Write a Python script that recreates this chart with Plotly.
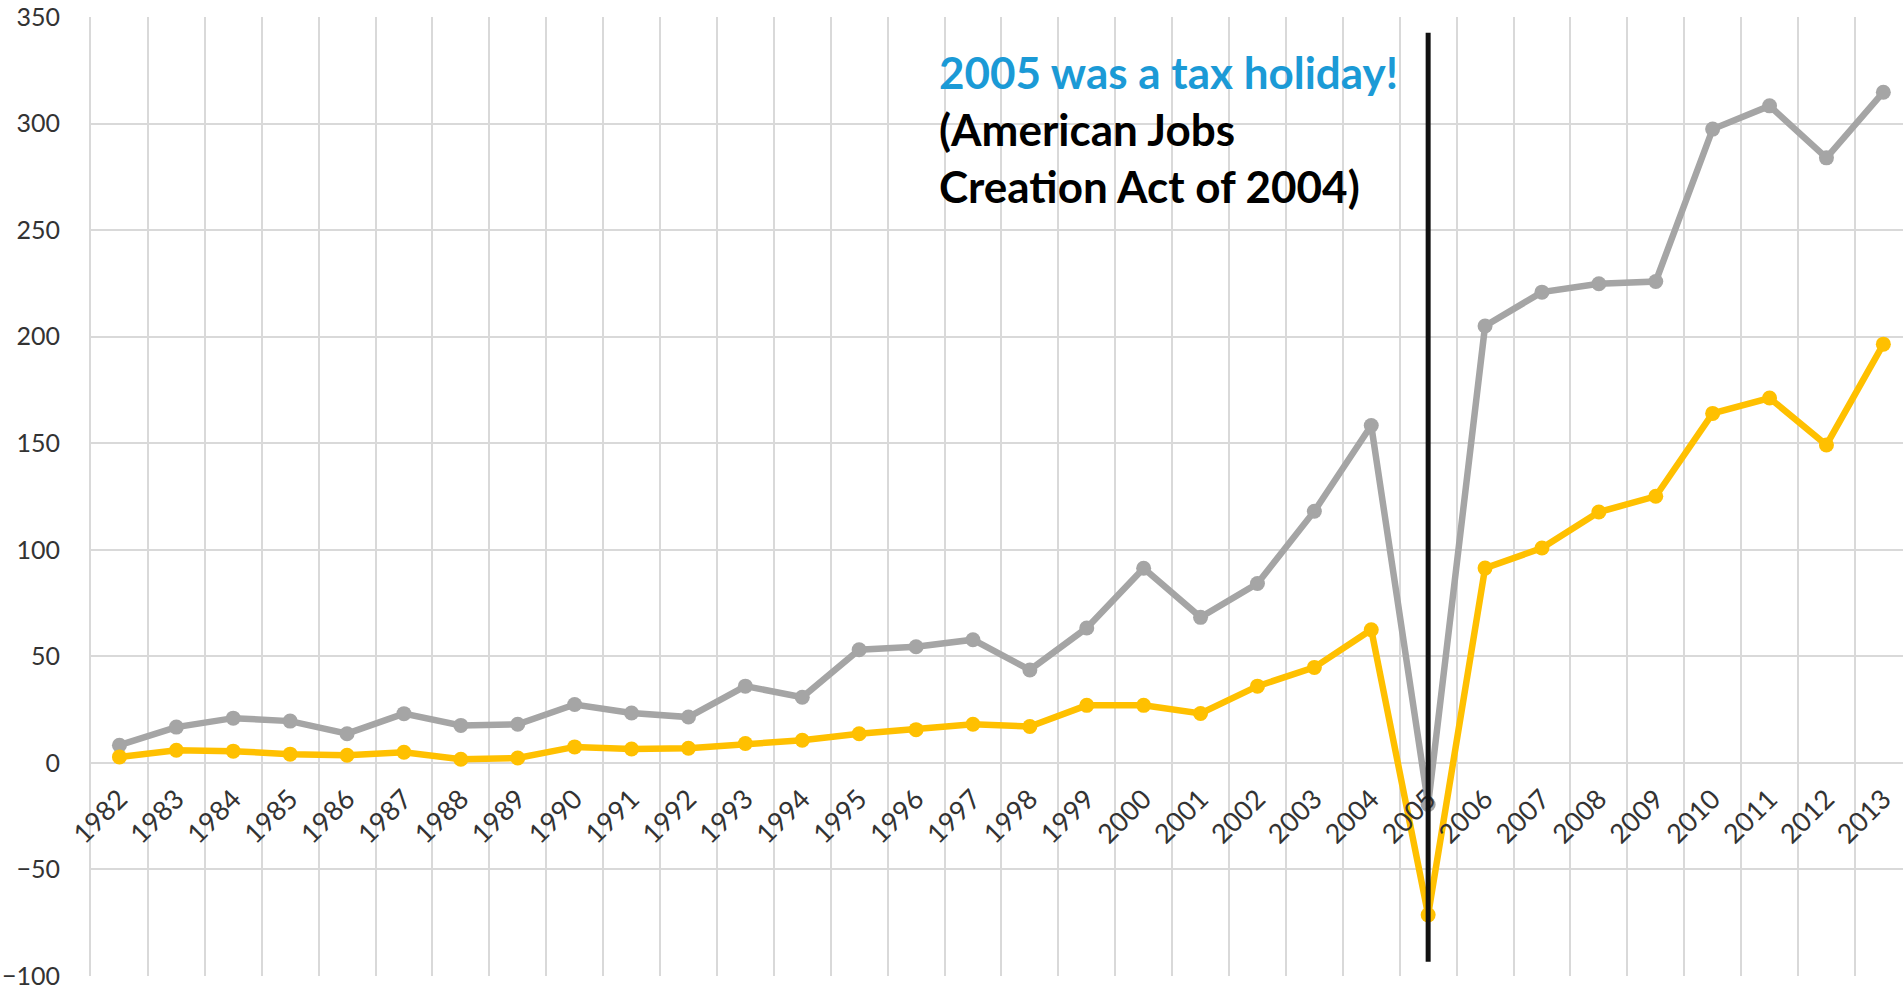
import plotly.graph_objects as go

# ---- data ----
years = ["1982", "1983", "1984", "1985", "1986", "1987", "1988", "1989", "1990", "1991",
         "1992", "1993", "1994", "1995", "1996", "1997", "1998", "1999", "2000", "2001",
         "2002", "2003", "2004", "2005", "2006", "2007", "2008", "2009", "2010", "2011",
         "2012", "2013"]
gray_values = [8.3, 16.8, 21.0, 19.6, 13.7, 23.1, 17.6, 18.1, 27.4, 23.4,
               21.5, 36.0, 30.8, 53.1, 54.5, 57.8, 43.6, 63.3, 91.3, 68.3,
               84.2, 118.1, 158.3, -19.5, 205.0, 220.9, 224.8, 225.9, 297.4, 308.3,
               283.9, 314.7]
gold_values = [2.8, 5.9, 5.5, 4.1, 3.6, 5.0, 1.7, 2.3, 7.5, 6.5,
               6.9, 9.1, 10.6, 13.7, 15.6, 18.1, 17.1, 27.0, 27.0, 23.2,
               36.0, 44.8, 62.5, -71.3, 91.4, 100.8, 117.7, 125.1, 164.0, 171.2,
               149.2, 196.5]
y_ticks = [-100, -50, 0, 50, 100, 150, 200, 250, 300, 350]
event_year = "2005"
event_line_top = 342.6
event_line_bottom = -93.3
note_title = "2005 was a tax holiday!"
note_lines = ["(American Jobs", "Creation Act of 2004)"]

# ---- styling ----
GRAY = "#A5A5A5"
GOLD = "#FFC000"
GRID = "#D9D9D9"
BLUE = "#1B9AD6"
FONT = "Lato"
W, H = 1903, 990
ML, MR, MT, MB = 91, 0, 17, 14
cat_w = 56.9
y_min, y_max = -100, 350
x_max = -0.5 + (W - ML - MR) / cat_w

fig = go.Figure()
fig.add_trace(go.Scatter(x=years, y=gray_values, mode="lines+markers", name="Series 1",
                         line=dict(color=GRAY, width=6.5), marker=dict(color=GRAY, size=15)))
fig.add_trace(go.Scatter(x=years, y=gold_values, mode="lines+markers", name="Series 2",
                         line=dict(color=GOLD, width=6.5), marker=dict(color=GOLD, size=15)))

ev_idx = years.index(event_year)
fig.add_shape(type="line", xref="x", yref="y", x0=ev_idx, x1=ev_idx,
              y0=event_line_bottom, y1=event_line_top,
              line=dict(color="#111111", width=5), layer="above")

plot_h = H - MT - MB
def y_of(px):
    return y_max - (px - MT) / plot_h * (y_max - y_min)

note_x = (937 - ML) / (W - ML - MR)
fig.add_annotation(text="<b>" + note_title + "</b>", xref="paper", yref="y",
                   x=note_x, y=y_of(72), xanchor="left", yanchor="middle", showarrow=False,
                   font=dict(family=FONT, size=44, color=BLUE))
for i, t in enumerate(note_lines):
    fig.add_annotation(text="<b>" + t + "</b>", xref="paper", yref="y",
                       x=note_x, y=y_of(129 + 57 * i), xanchor="left", yanchor="middle",
                       showarrow=False, font=dict(family=FONT, size=44, color="#000000"))

fig.update_layout(
    width=W, height=H,
    margin=dict(l=ML, r=MR, t=MT, b=MB, pad=0),
    paper_bgcolor="white", plot_bgcolor="white",
    showlegend=False,
    font=dict(family=FONT, color="#404040"),
    xaxis=dict(type="category", range=[-0.5, x_max], tickson="boundaries",
               showgrid=True, gridcolor=GRID, gridwidth=2,
               anchor="free", position=(0 - y_min) / (y_max - y_min),
               showline=False, ticks="", tickangle=-45, ticklabelstandoff=14,
               tickfont=dict(family=FONT, size=27, color="#333333"),
               zeroline=False),
    yaxis=dict(range=[y_min, y_max], tickvals=y_ticks, showgrid=True, gridcolor=GRID,
               gridwidth=2, zeroline=False, showline=True, linecolor=GRID, linewidth=2,
               ticks="", ticklabelstandoff=24,
               tickfont=dict(family=FONT, size=25, color="#333333")),
)

fig.write_html("out.html", config={"displayModeBar": False},
               post_script="document.body.style.margin='0';document.body.style.overflow='hidden';")
